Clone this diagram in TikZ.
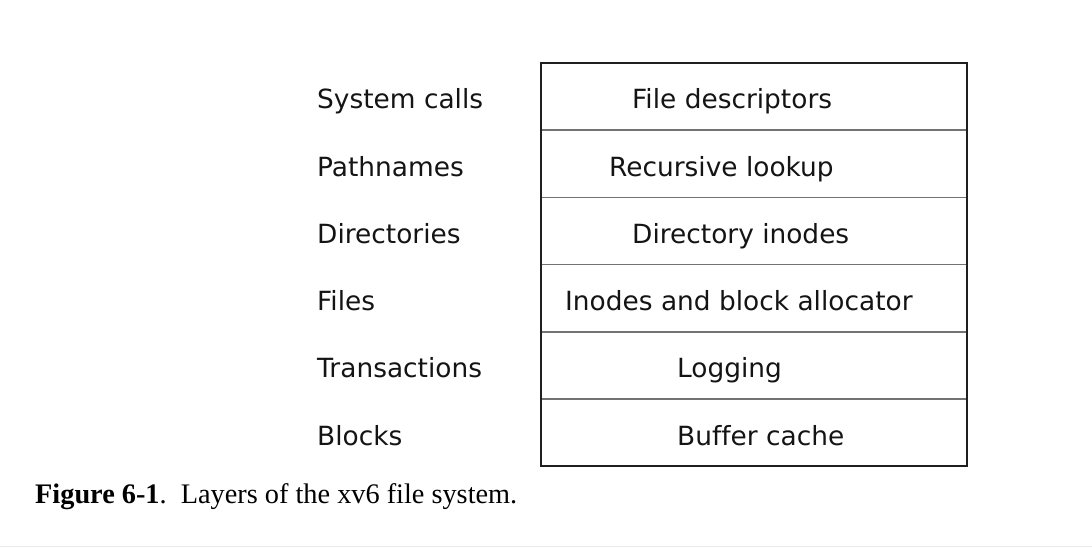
\documentclass[tikz,border=0pt]{standalone}
\usepackage{fontspec}
\setmainfont{Liberation Serif}
\newfontfamily\labelfont[Ligatures=NoCommon]{DejaVu Sans}
\begin{document}
\begin{tikzpicture}[x=1pt,y=-1pt,
  layertext/.style={anchor=base west,inner sep=0pt,font=\labelfont\fontsize{26.4}{30}\selectfont,text=black!92},
  rowline/.style={draw=black!55,line width=1.7pt},
  frame/.style={draw=black!88,line width=2.5pt}]
\useasboundingbox (0,0) rectangle (1092,548);
% layer rows of the stack
\foreach \i in {1,...,5} {
  \coordinate (r\i) at (541,63+67.2*\i);
  \draw[rowline] (r\i) -- ++(426,0);
}
\draw[frame] (541,63) rectangle (967,466);
% layer names on the left
\node[layertext] (n1) at (317,109) {System calls};
\node[layertext] (n2) at (317,176.2) {Pathnames};
\node[layertext] (n3) at (317,243.4) {Directories};
\node[layertext] (n4) at (317,310.6) {Files};
\node[layertext] (n5) at (317,377.8) {Transactions};
\node[layertext] (n6) at (317,445) {Blocks};
% implementations inside the box
\node[layertext] (m1) at (632,109) {File descriptors};
\node[layertext] (m2) at (609,176.2) {Recursive lookup};
\node[layertext] (m3) at (632,243.4) {Directory inodes};
\node[layertext] (m4) at (565,310.6) {Inodes and block allocator};
\node[layertext] (m5) at (677,377.8) {Logging};
\node[layertext] (m6) at (677,445) {Buffer cache};
% caption
\node[anchor=base west,inner sep=0pt,font=\fontsize{28.3}{32}\selectfont] (cap) at (35,503)
  {\textbf{Figure 6-1}.\ \ Layers of the xv6 file system.};
\draw[black!8,line width=1pt] (0,546) -- (1092,546);
\end{tikzpicture}
\end{document}
